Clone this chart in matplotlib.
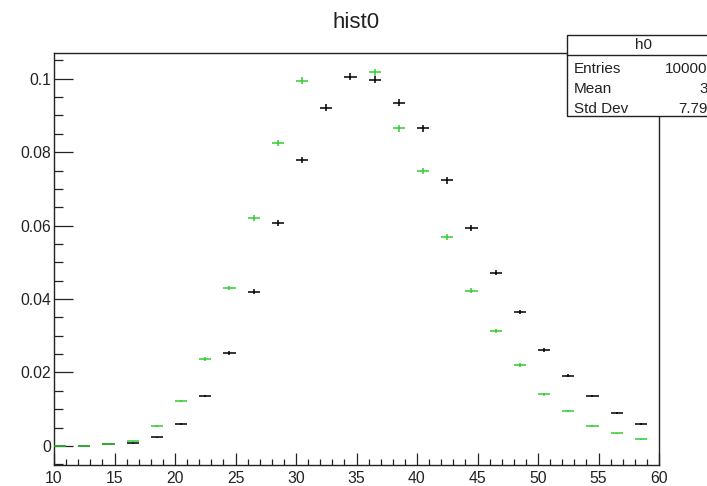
import matplotlib
matplotlib.use("Agg")
import matplotlib.pyplot as plt
import numpy as np
from matplotlib.patches import Rectangle
from matplotlib.lines import Line2D
from matplotlib.ticker import MultipleLocator, FixedLocator, FixedFormatter

plt.rcParams['font.family'] = ['Liberation Sans', 'DejaVu Sans']

# bin centres (unit-wide bins, every second one filled)
centers = [10.5, 12.5, 14.5, 16.5, 18.5, 20.5, 22.5, 24.5, 26.5, 28.5,
           30.5, 32.5, 34.5, 36.5, 38.5, 40.5, 42.5, 44.5, 46.5, 48.5,
           50.5, 52.5, 54.5, 56.5, 58.5]

# normalised contents of h0 (black) and the overlaid histogram (green)
h0 = [0.0, 0.0, 0.0004, 0.0007, 0.0023, 0.0060, 0.0136, 0.0253, 0.0420, 0.0608,
      0.0779, 0.0921, 0.1006, 0.0997, 0.0934, 0.0865, 0.0723, 0.0593, 0.0472, 0.0364,
      0.0262, 0.0191, 0.0136, 0.0089, 0.0060]
h1 = [0.0, 0.0, 0.0004, 0.0012, 0.0054, 0.0122, 0.0237, 0.0430, 0.0620, 0.0825,
      0.0995, 0.1100, 0.1105, 0.1017, 0.0865, 0.0749, 0.0569, 0.0423, 0.0314, 0.0220,
      0.0141, 0.0095, 0.0054, 0.0034, 0.0018]

n_entries = 100000
bin_width = 1.0

x_ticks = [10, 15, 20, 25, 30, 35, 40, 45, 50, 55, 60]
x_tick_labels = ["10", "15", "20", "25", "30", "35", "40", "45", "50", "55", "60"]
y_ticks = [0.0, 0.02, 0.04, 0.06, 0.08, 0.1]
y_tick_labels = ["0", "0.02", "0.04", "0.06", "0.08", "0.1"]

stat_names = ["Entries", "Mean", "Std Dev"]
stat_values = ["100000", "37", "7.793"]

W, H = 707, 486
fig = plt.figure(figsize=(W / 100, H / 100), dpi=100)


def fx(x):
    return x / W


def fy(y):
    return 1 - y / H


ax = fig.add_axes([fx(54), fy(465), (659 - 54) / W, (465 - 53) / H])

err0 = np.sqrt(np.array(h0) / n_entries)
err1 = np.sqrt(np.array(h1) / n_entries)

ax.errorbar(centers, h0, xerr=bin_width / 2, yerr=err0, fmt='none',
            ecolor='black', elinewidth=1.1, capsize=0, zorder=3)
ax.errorbar(centers, h1, xerr=bin_width / 2, yerr=err1, fmt='none',
            ecolor='#33cc33', elinewidth=1.1, capsize=0, zorder=4)

ax.set_xlim(10, 60)
ax.set_ylim(-0.0052, 0.107)

ax.xaxis.set_major_locator(FixedLocator(x_ticks))
ax.xaxis.set_major_formatter(FixedFormatter(x_tick_labels))
ax.xaxis.set_minor_locator(MultipleLocator(1))
ax.yaxis.set_major_locator(FixedLocator(y_ticks))
ax.yaxis.set_major_formatter(FixedFormatter(y_tick_labels))
ax.yaxis.set_minor_locator(MultipleLocator(0.005))

ax.tick_params(which='both', direction='in', top=False, right=False,
               colors='#222222', labelcolor='#222222', labelsize=11.3, width=0.9)
ax.tick_params(axis='y', which='major', length=13.7, pad=2.2)
ax.tick_params(axis='y', which='minor', length=6.8)
ax.tick_params(axis='x', which='major', length=8.6, pad=4.0)
ax.tick_params(axis='x', which='minor', length=4.6)

for s in ax.spines.values():
    s.set_linewidth(1.0)
    s.set_color('#222222')

fig.text(fx(356.5), fy(28), "hist0", ha='center', va='baseline',
         fontsize=16, color='#222222')

# statistics box for h0
bx0, bx1, by0, by1 = 567, 719, 35, 116
fig.add_artist(Rectangle((fx(bx0), fy(by1)), (bx1 - bx0) / W, (by1 - by0) / H,
                         transform=fig.transFigure, facecolor='white',
                         edgecolor='#222222', linewidth=1.0, zorder=10))
fig.add_artist(Line2D([fx(bx0), fx(bx1)], [fy(55), fy(55)],
                      transform=fig.transFigure, color='#222222',
                      linewidth=1.0, zorder=11))
fig.text(fx(643), fy(45), "h0", ha='center', va='center',
         fontsize=11, color='#222222', zorder=12)
for i, (name, val) in enumerate(zip(stat_names, stat_values)):
    y = 69 + 20 * i
    fig.text(fx(574), fy(y), name, ha='left', va='center',
             fontsize=11, color='#222222', zorder=12)
    fig.text(fx(716), fy(y), val, ha='right', va='center',
             fontsize=11, color='#222222', zorder=12)

fig.savefig("out.png", dpi=100)
